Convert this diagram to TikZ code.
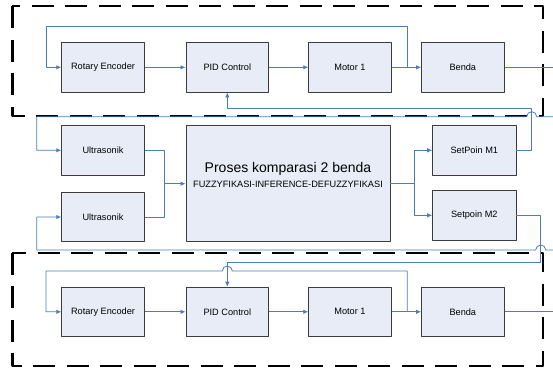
\documentclass[tikz,border=0pt]{standalone}
\usepackage{fontspec}
\setmainfont{Liberation Sans}
\usetikzlibrary{arrows.meta}
\definecolor{garisbiru}{HTML}{4A7EBB}
\definecolor{isiblok}{HTML}{E7ECF6}
\definecolor{tepiblok}{HTML}{3C3C3C}
\begin{document}
\begin{tikzpicture}[x=1pt,y=-1pt,>={Latex[length=5pt,width=4.5pt]},line join=round,font=\fontsize{9.2}{11}\selectfont,
		blok/.style={draw=tepiblok,fill=isiblok,line width=0.9pt,minimum width=82.6pt,minimum height=49.3pt,inner sep=0pt},
		garis/.style={draw=garisbiru,line width=0.8pt},
		batas/.style={draw=black,line width=2.4pt,dash pattern=on 22pt off 11.5pt}]
			\useasboundingbox (0,0) rectangle (553,367);
			\def\lompat{arc[start angle=0,end angle=180,radius=5pt]}
			% kotak putus-putus
			\draw [batas] (12.3,6) rectangle (542.7,116);
			\draw [batas] (12.3,252.7) rectangle (542.7,365.7);
			% baris atas
			\node [blok] (re1) at (103,67.3) {Rotary Encoder};
			\node [blok] (pid1) at (227.3,67.3) {PID Control};
			\node [blok] (mot1) at (350,67.3) {Motor 1};
			\node [blok] (ben1) at (462.8,67.3) {Benda};
			% tengah
			\node [blok] (us1) at (103,150.3) {Ultrasonik};
			\node [blok] (us2) at (103,217) {Ultrasonik};
			\node [blok,minimum width=204pt,minimum height=116pt] (proses) at (288,183.7) {};
			\node [font=\fontsize{14}{16}\selectfont] (judul) at ([yshift=14.5pt]proses.center) {Proses komparasi 2 benda};
			\node (fuzzy) at ([yshift=-0.3pt]proses.center) {FUZZYFIKASI-INFERENCE-DEFUZZYFIKASI};
			\node [blok,minimum width=83.3pt] (sp1) at (474.3,150.3) {SetPoin M1};
			\node [blok,minimum width=83.3pt] (sp2) at (474.3,215.3) {Setpoin M2};
			% baris bawah
			\node [blok] (re2) at (103,311.8) {Rotary Encoder};
			\node [blok] (pid2) at (227.3,311.8) {PID Control};
			\node [blok] (mot2) at (350,311.8) {Motor 1};
			\node [blok] (ben2) at (462.8,311.8) {Benda};
			% titik bantu
			\coordinate (j1) at (407.3,67.3);
			\coordinate (j2) at (407.3,311.8);
			\coordinate (out1) at (553,67.3);
			\coordinate (out2) at (553,311.8);
			\coordinate (in1) at (553,116.7);
			\coordinate (in2) at (553,250);
			\coordinate (gab) at (164.3,183.7);
			\coordinate (cab) at (414.3,183.7);
			% garis baris atas
			\draw [garis,->] (re1) -- (pid1);
			\draw [garis,->] (pid1) -- (mot1);
			\draw [garis,->] (mot1) -- (ben1);
			\draw [garis] (ben1) -- (out1);
			\draw [garis,->] (j1) -- (407.3,26.7) -| (46,67.3) -- (re1.west);
			% garis tengah
			\draw [garis,->] (in1) -- (536.7,116.7) \lompat -- (36.7,116.7) |- (us1.west);
			\draw [garis,->] (in2) -- (545.7,250) \lompat -- (36.7,250) |- (us2.west);
			\draw [garis] (us1.east) -| (gab);
			\draw [garis] (us2.east) -| (gab);
			\draw [garis,->] (gab) -- (proses.west);
			\draw [garis] (proses.east) -- (cab);
			\draw [garis,->] (cab) |- (sp1.west);
			\draw [garis,->] (cab) |- (sp2.west);
			\draw [garis,->] (sp1.east) -| (531.7,108.3) -| (pid1.south);
			\draw [garis,->] (sp2.east) -| (540.7,262.7) -| (pid2.north);
			% garis baris bawah
			\draw [garis,->] (re2) -- (pid2);
			\draw [garis,->] (pid2) -- (mot2);
			\draw [garis,->] (mot2) -- (ben2);
			\draw [garis] (ben2) -- (out2);
			\draw [garis,->] (j2) -- (407.3,271) -- (232.3,271) \lompat -- (46,271) |- (re2.west);
		\end{tikzpicture}
\end{document}
